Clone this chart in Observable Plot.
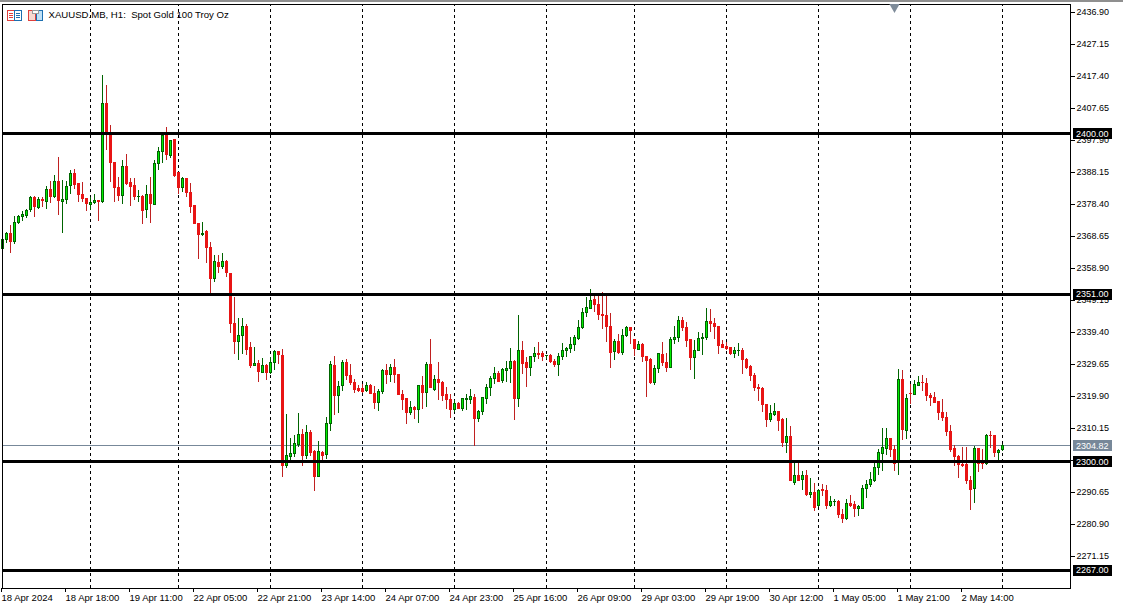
<!DOCTYPE html>
<html><head><meta charset="utf-8">
<script src="https://cdn.jsdelivr.net/npm/d3@7"></script>
<script src="https://cdn.jsdelivr.net/npm/@observablehq/plot@0.6"></script>
<style>html,body{margin:0;padding:0;background:#fff;overflow:hidden}
#top{position:absolute;left:0;top:0;width:1123px;height:2px;background:#8f8f8f}
#icons{position:absolute;left:0;top:0}</style>
</head><body>
<div id="chart"></div><div id="top"></div>
<svg id="icons" width="60" height="30" shape-rendering="crispEdges">
<rect x="7.5" y="10.5" width="14" height="10" fill="#fff" stroke="#e0403c"/><rect x="14.5" y="10.5" width="7" height="10" fill="#fff" stroke="#1c6fb0"/>
<path d="M9 13.5h4M9 15.5h4M9 17.5h4" stroke="#e0403c"/><path d="M16 13.5h4M16 15.5h4M16 17.5h4" stroke="#1c6fb0"/>
<rect x="28.5" y="10.5" width="7" height="10" fill="#f8d8d0" stroke="#e0403c"/><rect x="36.5" y="10.5" width="6" height="10" fill="#bfe0f6" stroke="#1c6fb0"/>
<rect x="32.5" y="10.5" width="6" height="3" fill="#fff" stroke="#999"/>
</svg>
<script>
const open = [2364.9,2367.6,2369.5,2366.9,2372.7,2374.5,2374.8,2376.8,2380.4,2377.4,
2379.8,2379.2,2382.9,2380.6,2385.3,2379.1,2379.8,2384.1,2387.7,2384.7,
2381.3,2380.1,2378.2,2378.9,2379.5,2379.1,2409.1,2399.9,2391.1,2383.5,
2381.0,2389.9,2385.0,2384.1,2380.6,2380.7,2376.8,2381.3,2378.3,2390.8,
2394.4,2399.4,2393.1,2398.1,2388.0,2383.4,2386.2,2382.0,2378.0,2372.5,
2369.0,2369.9,2365.2,2355.6,2360.7,2359.3,2360.9,2357.3,2342.0,2336.4,
2338.3,2341.1,2334.7,2329.3,2329.8,2327.2,2329.3,2327.2,2330.0,2333.5,
2332.3,2298.7,2301.4,2302.4,2305.0,2308.2,2301.7,2308.8,2303.0,2295.3,
2302.8,2302.0,2311.6,2329.2,2320.0,2323.0,2330.1,2326.2,2324.1,2322.3,
2322.1,2321.5,2323.2,2320.7,2317.9,2321.2,2327.8,2326.4,2328.6,2326.6,
2320.4,2319.0,2314.8,2316.5,2315.7,2323.1,2320.9,2329.5,2322.0,2325.0,
2324.1,2320.4,2318.9,2315.9,2317.7,2316.0,2318.9,2318.8,2319.5,2313.0,
2315.1,2319.1,2322.4,2325.3,2326.8,2324.6,2327.6,2328.2,2330.5,2319.1,
2333.8,2330.1,2328.5,2331.9,2332.9,2332.9,2332.2,2332.3,2330.5,2329.4,
2332.0,2333.7,2334.3,2335.6,2337.4,2340.7,2345.4,2346.7,2349.4,2347.8,
2344.8,2344.5,2341.1,2333.4,2336.6,2333.3,2338.3,2340.8,2337.2,2334.2,
2335.7,2332.0,2330.9,2323.9,2328.2,2332.4,2330.2,2328.7,2337.1,2337.7,
2343.0,2340.8,2337.0,2331.5,2333.9,2337.4,2337.6,2342.6,2342.1,2341.1,
2335.6,2335.0,2334.7,2332.8,2333.8,2333.8,2331.1,2329.0,2326.2,2322.5,
2322.2,2317.4,2312.7,2314.4,2315.2,2312.6,2305.7,2307.7,2293.5,2295.7,
2294.4,2295.8,2289.8,2290.5,2286.4,2291.3,2291.2,2286.4,2287.8,2287.9,
2283.8,2282.7,2287.2,2286.7,2285.7,2285.7,2291.6,2292.9,2294.1,2298.0,
2302.5,2304.0,2307.0,2303.6,2299.6,2325.0,2309.4,2320.7,2320.5,2323.2,
2324.1,2323.8,2320.2,2319.3,2318.1,2314.9,2313.5,2309.1,2303.9,2301.6,
2299.1,2298.9,2294.2,2291.6,2303.9,2299.6,2299.2,2307.9,2307.9,2302.7,
2303.7];
const high = [2368.0,2369.8,2372.0,2374.7,2375.2,2376.4,2376.8,2380.8,2380.8,2380.4,
2380.6,2383.9,2385.4,2387.2,2392.6,2385.7,2385.3,2388.8,2389.0,2384.7,
2385.1,2380.1,2380.6,2381.4,2379.6,2417.6,2414.7,2402.5,2391.1,2386.7,
2391.8,2393.6,2386.3,2386.2,2382.7,2381.1,2384.2,2386.7,2391.8,2395.7,
2399.5,2401.9,2397.9,2398.1,2388.0,2386.7,2386.2,2384.7,2378.0,2372.5,
2372.9,2370.5,2366.8,2363.0,2362.8,2363.4,2361.3,2357.3,2350.1,2343.8,
2343.8,2341.8,2336.4,2334.8,2330.9,2331.5,2329.6,2331.7,2333.9,2333.6,
2334.2,2314.4,2307.1,2308.0,2314.7,2309.8,2311.1,2309.5,2303.4,2306.2,
2303.2,2313.5,2330.6,2332.1,2324.5,2330.9,2331.2,2329.6,2325.1,2323.2,
2323.6,2324.1,2323.6,2322.8,2321.9,2328.1,2329.8,2329.5,2331.2,2326.6,
2321.7,2319.3,2318.3,2316.8,2323.1,2326.0,2330.2,2337.2,2326.3,2330.2,
2324.4,2322.7,2320.5,2318.7,2318.1,2319.4,2320.4,2322.0,2320.4,2315.6,
2319.7,2323.6,2326.0,2328.6,2327.6,2328.4,2330.6,2334.4,2330.9,2344.6,
2336.7,2331.9,2332.1,2334.7,2336.4,2333.6,2332.5,2332.6,2331.1,2333.0,
2335.9,2334.9,2338.0,2338.5,2343.1,2346.6,2350.0,2352.4,2351.2,2351.0,
2351.5,2351.2,2345.1,2337.4,2338.8,2340.2,2341.2,2340.8,2337.2,2336.6,
2335.9,2332.0,2331.5,2329.2,2332.9,2336.4,2333.1,2337.9,2341.2,2344.3,
2343.9,2342.6,2337.2,2337.0,2339.4,2339.0,2346.6,2346.4,2343.7,2341.1,
2337.0,2336.5,2334.7,2334.7,2336.0,2334.4,2331.4,2329.3,2326.8,2323.6,
2322.5,2317.4,2317.1,2317.8,2315.2,2313.2,2313.2,2310.8,2299.6,2299.4,
2296.9,2297.3,2294.9,2293.3,2291.7,2293.1,2292.8,2289.4,2288.5,2288.2,
2285.4,2288.4,2289.7,2287.9,2286.7,2292.9,2294.3,2296.8,2299.9,2303.6,
2310.3,2310.3,2307.0,2305.0,2328.0,2327.8,2320.5,2323.6,2324.8,2326.0,
2326.3,2325.3,2320.7,2321.1,2318.2,2318.9,2315.1,2311.1,2305.0,2302.0,
2304.3,2304.3,2295.5,2304.7,2303.9,2303.9,2308.3,2309.2,2307.9,2303.8,
2305.3];
const low = [2364.6,2366.6,2363.6,2366.2,2372.2,2373.3,2374.0,2376.1,2374.5,2377.0,
2377.4,2377.0,2378.8,2380.2,2375.2,2369.5,2378.3,2381.3,2382.9,2378.9,
2379.0,2376.4,2376.6,2378.4,2373.3,2378.6,2394.9,2385.2,2379.1,2379.3,
2378.5,2384.2,2377.9,2379.6,2379.1,2372.4,2374.2,2372.7,2378.2,2388.8,
2390.8,2391.8,2392.5,2386.7,2381.3,2382.2,2380.6,2375.8,2372.5,2361.7,
2368.6,2360.5,2351.2,2354.7,2357.3,2358.7,2356.1,2339.2,2332.7,2330.9,
2332.7,2332.4,2328.4,2329.0,2324.2,2326.9,2324.8,2326.6,2327.8,2329.6,
2295.2,2298.0,2300.4,2301.4,2304.5,2298.7,2300.7,2301.6,2291.0,2295.3,
2300.1,2300.7,2309.2,2314.1,2314.7,2321.4,2324.8,2323.4,2320.8,2321.1,
2320.7,2321.0,2320.5,2316.0,2315.4,2320.6,2323.6,2324.3,2323.8,2320.3,
2315.7,2311.5,2314.2,2313.0,2311.8,2315.8,2316.6,2322.2,2321.5,2318.7,
2318.5,2315.8,2313.3,2315.1,2315.8,2315.2,2315.6,2317.5,2304.8,2312.0,
2314.2,2317.6,2320.0,2323.5,2324.2,2324.0,2324.3,2323.8,2312.6,2316.5,
2326.6,2322.6,2326.0,2330.3,2331.2,2330.6,2331.3,2330.1,2328.6,2326.0,
2330.8,2331.8,2333.1,2333.6,2337.0,2340.2,2343.9,2346.3,2345.5,2343.1,
2340.4,2336.4,2328.5,2330.9,2332.7,2332.5,2338.0,2335.7,2332.2,2333.9,
2330.3,2319.7,2323.6,2323.2,2327.0,2329.1,2327.2,2328.6,2335.7,2336.5,
2339.8,2334.9,2327.8,2325.1,2333.7,2332.4,2337.1,2339.4,2337.3,2332.7,
2334.5,2333.9,2332.4,2331.5,2332.1,2326.6,2328.2,2324.5,2321.4,2318.4,
2315.0,2310.4,2312.0,2313.8,2309.2,2304.5,2302.6,2294.1,2292.8,2293.9,
2291.3,2289.5,2288.8,2285.0,2286.2,2289.5,2285.5,2286.0,2286.4,2282.7,
2281.3,2282.1,2286.0,2283.1,2283.3,2285.5,2288.8,2292.1,2293.8,2295.8,
2297.1,2301.9,2301.2,2297.0,2295.8,2306.5,2306.9,2317.4,2320.1,2322.9,
2321.5,2318.5,2316.8,2317.7,2312.6,2312.4,2307.8,2302.8,2298.6,2294.8,
2298.4,2293.1,2285.2,2287.4,2296.8,2297.6,2298.9,2304.2,2301.4,2300.4,
2303.2];
const close = [2367.6,2369.5,2366.9,2372.8,2374.6,2375.1,2376.5,2380.4,2377.7,2379.8,
2379.5,2382.9,2380.6,2385.3,2379.4,2379.8,2383.8,2387.7,2384.2,2381.3,
2380.0,2378.5,2378.9,2379.5,2379.1,2409.1,2400.2,2391.0,2383.5,2380.9,
2389.9,2384.8,2383.8,2380.6,2380.7,2376.5,2381.3,2378.5,2390.8,2394.4,
2399.3,2393.5,2397.8,2387.0,2383.4,2386.2,2382.0,2377.6,2372.5,2369.1,
2369.5,2365.1,2355.6,2360.9,2359.3,2360.9,2357.5,2341.9,2336.4,2338.4,
2341.1,2334.2,2329.3,2329.8,2327.3,2329.2,2327.0,2330.1,2333.6,2332.4,
2298.7,2301.8,2302.4,2305.5,2308.2,2301.7,2308.8,2302.8,2295.3,2303.0,
2301.7,2311.6,2329.5,2320.0,2322.8,2330.1,2326.1,2323.9,2321.8,2321.7,
2321.4,2323.1,2320.6,2317.9,2321.3,2327.8,2326.3,2328.5,2326.4,2320.3,
2318.7,2314.8,2316.4,2315.7,2323.1,2320.9,2329.5,2322.4,2325.0,2324.0,
2320.0,2318.8,2315.7,2317.7,2316.0,2319.0,2319.0,2319.8,2313.0,2315.3,
2319.5,2322.5,2325.3,2326.8,2324.4,2328.0,2328.3,2330.5,2319.1,2333.8,
2329.9,2328.5,2332.0,2332.9,2332.5,2331.9,2332.3,2330.4,2329.4,2332.0,
2333.8,2334.4,2335.6,2337.8,2340.8,2345.4,2346.9,2349.0,2347.7,2344.8,
2344.4,2341.0,2333.1,2336.6,2333.3,2338.4,2340.8,2339.8,2334.3,2335.6,
2331.9,2330.7,2323.9,2328.3,2332.7,2330.0,2328.7,2337.2,2337.8,2343.0,
2340.9,2336.8,2331.6,2333.8,2337.5,2337.8,2342.6,2341.9,2341.0,2335.2,
2334.8,2334.5,2332.8,2333.9,2333.9,2331.0,2328.7,2326.1,2322.6,2322.1,
2317.2,2312.7,2314.6,2315.2,2312.4,2305.7,2307.7,2294.1,2295.7,2294.3,
2295.7,2289.8,2290.6,2285.8,2291.2,2291.2,2286.4,2287.8,2287.9,2283.7,
2282.7,2287.2,2286.4,2285.6,2286.1,2291.8,2293.0,2294.5,2298.2,2302.7,
2304.3,2307.0,2303.5,2299.4,2325.0,2309.6,2319.2,2320.6,2323.5,2324.1,
2324.0,2320.0,2319.4,2317.9,2314.8,2313.3,2309.0,2303.7,2301.6,2299.0,
2298.7,2294.1,2291.4,2303.9,2299.4,2299.4,2307.9,2307.8,2302.6,2303.4,
2304.82];

const yTicks = [2436.90,2427.15,2417.40,2407.65,2397.90,2388.15,2378.40,2368.65,2358.90,2349.15,2339.40,2329.65,2319.90,2310.15,2300.40,2290.65,2280.90,2271.15];
const timeLabels = ["18 Apr 2024","18 Apr 18:00","19 Apr 11:00","22 Apr 05:00","22 Apr 21:00","23 Apr 14:00","24 Apr 07:00","24 Apr 23:00","25 Apr 16:00","26 Apr 09:00","29 Apr 03:00","29 Apr 19:00","30 Apr 12:00","1 May 05:00","1 May 21:00","2 May 14:00"];
const timeTickBars = [0,16,32,48,64,80,96,112,128,144,160,176,192,208,224,240];
const separatorBars = [22,44,67,90,113,136,158,181,204,227,250];
const levels = [2400,2351,2300,2267];
const lastPrice = 2304.82;
const markerBar = [223];
const title = "XAUUSD.MB, H1:  Spot Gold 100 Troy Oz";

const bars = open.map((o,i)=>({i,o,h:high[i],l:low[i],c:close[i],up:close[i]>=o}));
const FONT = "Liberation Sans";
const plate = [267.75,277.5];      // right-hand price plate, on the bar-index scale
const plates = [...levels.map(v=>({v,fill:"#000"})),{v:lastPrice,fill:"#778899"}];
const greenBody="#00ee00",greenLine="#006400",redBody="#e81414",redWick="#c02020";

const chart = Plot.plot({
  width:1123,height:609,
  marginLeft:2,marginRight:53,marginTop:4,marginBottom:21,
  style:{background:"#fff",fontFamily:FONT,fontSize:"9.5px",color:"#000"},
  x:{domain:[0,267],range:[2,1070],axis:null},
  y:{domain:[2261.40,2439.34],range:[588,4],axis:null},
  marks:[
    Plot.ruleY([lastPrice],{x1:0,x2:267,stroke:"#778899",strokeWidth:1,shapeRendering:"crispEdges"}),
    Plot.ruleX(separatorBars,{y1:2261.40,y2:2439.0,stroke:"#000",strokeWidth:1,strokeDasharray:"3,3",shapeRendering:"crispEdges"}),
    Plot.ruleX(bars,{x:"i",y1:"l",y2:"h",stroke:d=>d.up?greenLine:redWick,strokeWidth:1,shapeRendering:"crispEdges"}),
    Plot.rect(bars,{x1:d=>d.i-0.25,x2:d=>d.i+0.25,y1:"o",y2:"c",dx:0.5,fill:d=>d.up?greenBody:redBody,stroke:d=>d.up?greenLine:redBody,strokeWidth:1,shapeRendering:"crispEdges"}),
    Plot.ruleY(levels,{x1:0,x2:267,stroke:"#000",strokeWidth:3,shapeRendering:"crispEdges"}),
    Plot.frame({stroke:"#000",strokeWidth:1,shapeRendering:"crispEdges"}),
    Plot.dot(markerBar,{x:d=>d,frameAnchor:"top",symbol:"triangle",rotate:180,r:3.8,fill:"#7f8c9a",dy:2.5}),
    Plot.axisY({anchor:"right",ticks:yTicks,tickFormat:d=>d.toFixed(2),tickSize:4,tickPadding:2,label:null,fill:"#000",stroke:"#000",fontSize:9}),
    Plot.axisX({anchor:"bottom",ticks:timeTickBars,tickFormat:d=>timeLabels[timeTickBars.indexOf(d)],tickSize:4,tickPadding:2,textAnchor:"start",dx:-1,label:null,fontSize:9.5}),
    Plot.ruleY(plates,{y:"v",x1:plate[0],x2:plate[1],stroke:"fill",strokeWidth:11,shapeRendering:"crispEdges"}),
    Plot.text(plates,{y:"v",x:plate[0],dx:2.5,text:d=>d.v.toFixed(2),textAnchor:"start",fill:"#fff",fontSize:9}),
    Plot.text([title],{frameAnchor:"top-left",dx:46,dy:7,textAnchor:"start",fill:"#000",fontSize:9.6})
  ]
});
document.getElementById("chart").appendChild(chart);
</script>
</body></html>
